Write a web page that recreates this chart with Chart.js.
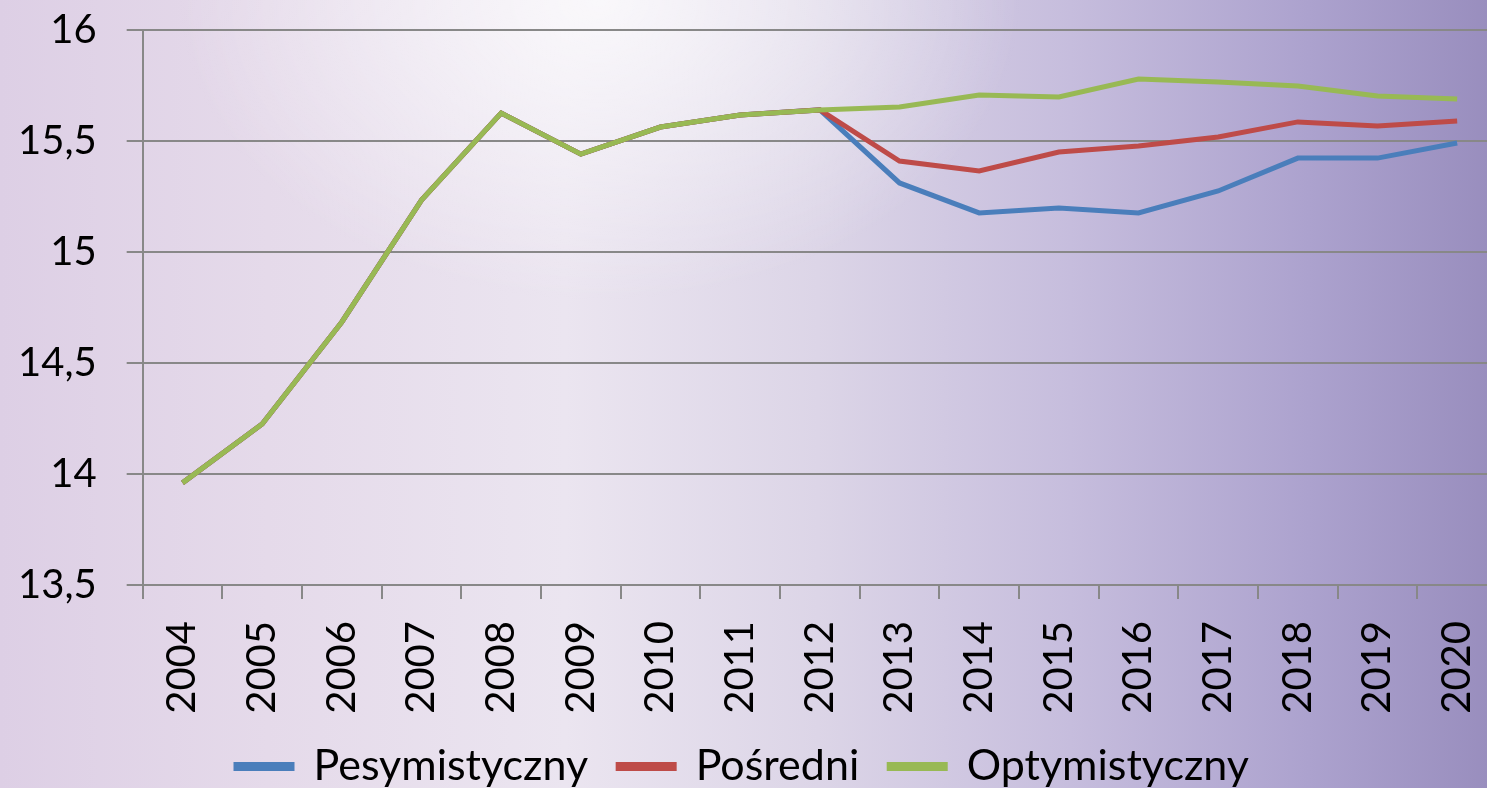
<!DOCTYPE html>
<html>
<head>
<meta charset="utf-8">
<script src="https://cdn.jsdelivr.net/npm/chart.js@4/dist/chart.umd.min.js"></script>
<style>
  html, body { margin: 0; padding: 0; overflow: hidden; }
  body {
    width: 1487px; height: 788px;
    background:
      radial-gradient(ellipse 420px 300px at 600px 0px, rgba(255,255,255,0.75), rgba(255,255,255,0) 100%),
      linear-gradient(to right, #ddcfe5 0%, #e5daea 18%, #ebe5f0 38%, #dcd5e7 55%, #c6bddd 72%, #aca2ce 88%, #998ebe 100%);
  }
  #wrap { position: absolute; left: 0; top: 0; width: 1500px; height: 788px; }
</style>
</head>
<body>
<div id="wrap"><canvas id="chart"></canvas></div>
<script>
  const years = ['2004', '2005', '2006', '2007', '2008', '2009', '2010', '2011', '2012',
    '2013', '2014', '2015', '2016', '2017', '2018', '2019', '2020'];
  const pesymistyczny = [13.96, 14.225, 14.685, 15.234, 15.626, 15.441, 15.563, 15.617, 15.64,
    15.311, 15.176, 15.198, 15.176, 15.275, 15.423, 15.423, 15.491];
  const posredni = [13.96, 14.225, 14.685, 15.234, 15.626, 15.441, 15.563, 15.617, 15.64,
    15.41, 15.365, 15.45, 15.477, 15.518, 15.586, 15.568, 15.59];
  const optymistyczny = [13.96, 14.225, 14.685, 15.234, 15.626, 15.441, 15.563, 15.617, 15.64,
    15.653, 15.707, 15.698, 15.779, 15.766, 15.748, 15.703, 15.689];

  const fontFamily = 'Lato, "Open Sans", sans-serif';

  function series(label, data, color, order) {
    return {
      label,
      data,
      borderColor: color,
      backgroundColor: color,
      borderWidth: 5,
      pointRadius: 0,
      tension: 0,
      order
    };
  }

  // drop the automatic label overflow padding so the plot fills the frame like the original
  function noPadding(scale) {
    scale.paddingTop = 0;
    scale.paddingBottom = 0;
    scale.paddingLeft = 0;
    scale.paddingRight = 0;
  }

  new Chart(document.getElementById('chart'), {
    type: 'line',
    data: {
      labels: years,
      datasets: [
        series('Pesymistyczny', pesymistyczny, '#4a7ebb', 3),
        series('Pośredni', posredni, '#be4b48', 2),
        series('Optymistyczny', optymistyczny, '#98b954', 1)
      ]
    },
    options: {
      responsive: true,
      maintainAspectRatio: false,
      animation: false,
      layout: { padding: { left: -12, right: 3, top: 30, bottom: -10 } },
      scales: {
        x: {
          offset: true,
          afterFit(scale) {
            noPadding(scale);
            scale.height = 130;
          },
          grid: {
            display: true,
            drawOnChartArea: false,
            offset: true,
            color: '#888888',
            lineWidth: 2,
            tickLength: 14
          },
          border: { color: '#888888', width: 2 },
          ticks: {
            color: '#000',
            font: { family: fontFamily, size: 40 },
            maxRotation: 90,
            minRotation: 90,
            padding: 22
          }
        },
        y: {
          min: 13.5,
          max: 16,
          afterFit: noPadding,
          ticks: {
            stepSize: 0.5,
            color: '#000',
            font: { family: fontFamily, size: 40 },
            padding: 30,
            callback: (value) => String(value).replace('.', ',')
          },
          grid: { color: '#888888', lineWidth: 2, tickLength: 16 },
          border: { color: '#888888', width: 2 }
        }
      },
      plugins: {
        legend: {
          position: 'bottom',
          labels: {
            color: '#000',
            font: { family: fontFamily, size: 43 },
            boxWidth: 56,
            boxHeight: 4,
            padding: 30,
            sort: (a, b) => a.datasetIndex - b.datasetIndex
          }
        },
        tooltip: { enabled: false }
      }
    }
  });
</script>
</body>
</html>
